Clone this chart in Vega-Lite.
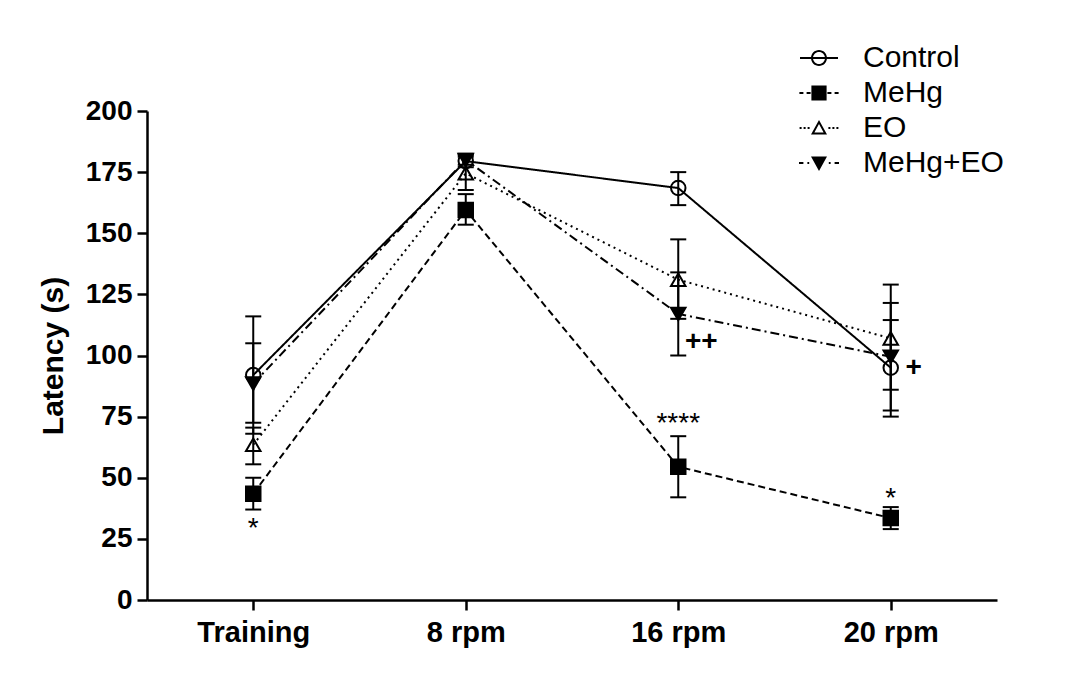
{
  "$schema": "https://vega.github.io/schema/vega-lite/v6.json",
  "width": 850,
  "height": 489,
  "autosize": {"type": "none"},
  "padding": {"left": 147, "top": 111, "right": 76, "bottom": 75},
  "background": "white",
  "config": {
    "view": {"stroke": null},
    "font": "Liberation Sans",
    "axisX": {"domainColor": "black", "domainWidth": 2.5, "tickColor": "black", "tickWidth": 2.5, "tickSize": 10, "labelFont": "Liberation Sans", "labelFontSize": 29, "labelFontWeight": "bold", "labelColor": "black", "labelPadding": 8, "labelAngle": 0, "grid": false},
    "axisY": {"domainColor": "black", "domainWidth": 2.5, "tickColor": "black", "tickWidth": 2.5, "tickSize": 10, "labelFont": "Liberation Sans", "labelFontSize": 28, "labelFontWeight": "bold", "labelColor": "black", "labelPadding": 5, "titleFont": "Liberation Sans", "titleFontSize": 30, "titleFontWeight": "bold", "titleColor": "black", "titlePadding": 17, "grid": false}
  },
  "resolve": {"scale": {"shape": "independent"}, "legend": {"shape": "independent", "strokeDash": "independent"}},
  "datasets": {
    "stats": [
      {"group": "Control", "time": "Training", "mean": 92, "lo": 68, "hi": 116},
      {"group": "Control", "time": "8 rpm", "mean": 179.5, "lo": 177, "hi": 182},
      {"group": "Control", "time": "16 rpm", "mean": 168.5, "lo": 161.5, "hi": 175},
      {"group": "Control", "time": "20 rpm", "mean": 95, "lo": 75, "hi": 114.5},
      {"group": "MeHg", "time": "Training", "mean": 43.5, "lo": 37, "hi": 50},
      {"group": "MeHg", "time": "8 rpm", "mean": 159.5, "lo": 153.5, "hi": 166},
      {"group": "MeHg", "time": "16 rpm", "mean": 54.5, "lo": 42, "hi": 67},
      {"group": "MeHg", "time": "20 rpm", "mean": 33.5, "lo": 29, "hi": 38},
      {"group": "EO", "time": "Training", "mean": 63.5, "lo": 55.5, "hi": 70.5},
      {"group": "EO", "time": "8 rpm", "mean": 174.5, "lo": 167.7, "hi": 181.3},
      {"group": "EO", "time": "16 rpm", "mean": 131, "lo": 115, "hi": 147.5},
      {"group": "EO", "time": "20 rpm", "mean": 107, "lo": 86, "hi": 129},
      {"group": "MeHg+EO", "time": "Training", "mean": 88.5, "lo": 72.5, "hi": 105},
      {"group": "MeHg+EO", "time": "8 rpm", "mean": 180, "lo": 178, "hi": 182.5},
      {"group": "MeHg+EO", "time": "16 rpm", "mean": 117, "lo": 100, "hi": 134},
      {"group": "MeHg+EO", "time": "20 rpm", "mean": 99.5, "lo": 77.5, "hi": 121.5}
    ],
    "stars": [
      {"time": "Training", "y": 32, "label": "*"},
      {"time": "16 rpm", "y": 75, "label": "****"},
      {"time": "20 rpm", "y": 44, "label": "*"}
    ],
    "plus": [
      {"time": "16 rpm", "y": 105.5, "label": "++"},
      {"time": "20 rpm", "y": 95, "label": "+"}
    ]
  },
  "layer": [
    {
      "data": {"name": "stats"},
      "mark": {"type": "line", "strokeWidth": 2, "color": "black"},
      "encoding": {
        "x": {"field": "time", "type": "ordinal", "sort": ["Training", "8 rpm", "16 rpm", "20 rpm"], "scale": {"type": "point", "padding": 0.5}, "title": null},
        "y": {"field": "mean", "type": "quantitative", "scale": {"domain": [0, 200], "nice": false}, "axis": {"values": [0, 25, 50, 75, 100, 125, 150, 175, 200]}, "title": "Latency (s)"},
        "strokeDash": {"field": "group", "type": "nominal", "scale": {"domain": ["Control", "MeHg", "EO", "MeHg+EO"], "range": [[1, 0], [7, 4], [2, 4], [9, 4, 2, 4]]}, "legend": null},
        "detail": {"field": "group"},
        "order": {"value": null}
      }
    },
    {
      "data": {"name": "stats"},
      "mark": {"type": "rule", "strokeWidth": 2, "color": "black"},
      "encoding": {
        "x": {"field": "time", "type": "ordinal", "sort": ["Training", "8 rpm", "16 rpm", "20 rpm"], "title": null},
        "y": {"field": "lo", "type": "quantitative", "title": "Latency (s)"},
        "y2": {"field": "hi"}
      }
    },
    {
      "data": {"name": "stats"},
      "mark": {"type": "tick", "size": 16, "thickness": 2, "color": "black", "opacity": 1},
      "encoding": {
        "x": {"field": "time", "type": "ordinal", "sort": ["Training", "8 rpm", "16 rpm", "20 rpm"], "title": null},
        "y": {"field": "lo", "type": "quantitative", "title": "Latency (s)"}
      }
    },
    {
      "data": {"name": "stats"},
      "mark": {"type": "tick", "size": 16, "thickness": 2, "color": "black", "opacity": 1},
      "encoding": {
        "x": {"field": "time", "type": "ordinal", "sort": ["Training", "8 rpm", "16 rpm", "20 rpm"], "title": null},
        "y": {"field": "hi", "type": "quantitative", "title": "Latency (s)"}
      }
    },
    {
      "data": {"name": "stats"},
      "mark": {"type": "point", "size": 210, "stroke": "black", "strokeWidth": 2, "opacity": 1},
      "encoding": {
        "x": {"field": "time", "type": "ordinal", "sort": ["Training", "8 rpm", "16 rpm", "20 rpm"], "title": null},
        "y": {"field": "mean", "type": "quantitative", "title": "Latency (s)"},
        "shape": {
          "field": "group", "type": "nominal",
          "scale": {"domain": ["Control", "MeHg", "EO", "MeHg+EO"], "range": ["circle", "square", "triangle-up", "triangle-down"]},
          "legend": null
        },
        "fill": {
          "field": "group", "type": "nominal",
          "scale": {"domain": ["Control", "MeHg", "EO", "MeHg+EO"], "range": ["transparent", "black", "transparent", "black"]},
          "legend": null
        }
      }
    },
    {
      "data": {"name": "stars"},
      "mark": {"type": "text", "fontSize": 28, "font": "Liberation Sans", "color": "black", "align": "center", "baseline": "middle", "dy": 7},
      "encoding": {
        "x": {"field": "time", "type": "ordinal", "sort": ["Training", "8 rpm", "16 rpm", "20 rpm"], "title": null},
        "y": {"field": "y", "type": "quantitative", "title": "Latency (s)"},
        "text": {"field": "label"}
      }
    },
    {
      "data": {"name": "plus"},
      "mark": {"type": "text", "fontSize": 28, "font": "Liberation Sans", "fontWeight": "bold", "color": "black", "align": "center", "baseline": "middle", "dx": 23},
      "encoding": {
        "x": {"field": "time", "type": "ordinal", "sort": ["Training", "8 rpm", "16 rpm", "20 rpm"], "title": null},
        "y": {"field": "y", "type": "quantitative", "title": "Latency (s)"},
        "text": {"field": "label"}
      }
    },
    {
      "data": {"name": "stats"},
      "mark": {"type": "point", "filled": true, "color": "black", "size": 0, "strokeWidth": 0, "opacity": 1},
      "encoding": {
        "x": {"field": "time", "type": "ordinal", "sort": ["Training", "8 rpm", "16 rpm", "20 rpm"], "title": null},
        "y": {"field": "mean", "type": "quantitative", "title": "Latency (s)"},
        "shape": {
          "field": "group", "type": "nominal",
          "scale": {
            "domain": ["Control", "MeHg", "EO", "MeHg+EO"],
            "range": [
              "M-4.75,-0.25H4.75V0.25H-4.75Z M-2,0A2,2 0 1,1 2,0A2,2 0 1,1 -2,0Z M-1.5,0A1.5,1.5 0 1,0 1.5,0A1.5,1.5 0 1,0 -1.5,0Z",
              "M-4.9,-0.25H-3.9V0.25H-4.9Z M-3.1,-0.25H-2.1V0.25H-3.1Z M2.1,-0.25H3.1V0.25H2.1Z M3.9,-0.25H4.9V0.25H3.9Z M-1.9,-1.9H1.9V1.9H-1.9Z",
              "M-4.85,-0.25H-4.35V0.25H-4.85Z M-3.85,-0.25H-3.35V0.25H-3.85Z M-2.85,-0.25H-2.35V0.25H-2.85Z M2.35,-0.25H2.85V0.25H2.35Z M3.35,-0.25H3.85V0.25H3.35Z M4.35,-0.25H4.85V0.25H4.35Z M0,-2L2,1.6H-2Z M0,-0.97L-1.15,1.1H1.15Z",
              "M-5,-0.25H-3.9V0.25H-5Z M-2.9,-0.25H-2.45V0.25H-2.9Z M2.45,-0.25H2.9V0.25H2.45Z M3.9,-0.25H5V0.25H3.9Z M-2,-1.6H2L0,2Z"
            ]
          },
          "legend": {
            "title": null, "orient": "none", "legendX": 657, "legendY": -68, "padding": 0,
            "labelFont": "Liberation Sans", "labelFontSize": 30, "labelColor": "black", "labelOffset": 29,
            "rowPadding": 5, "symbolSize": 64, "symbolStrokeWidth": 0, "symbolFillColor": "black", "symbolOpacity": 1
          }
        }
      }
    }
  ]
}
